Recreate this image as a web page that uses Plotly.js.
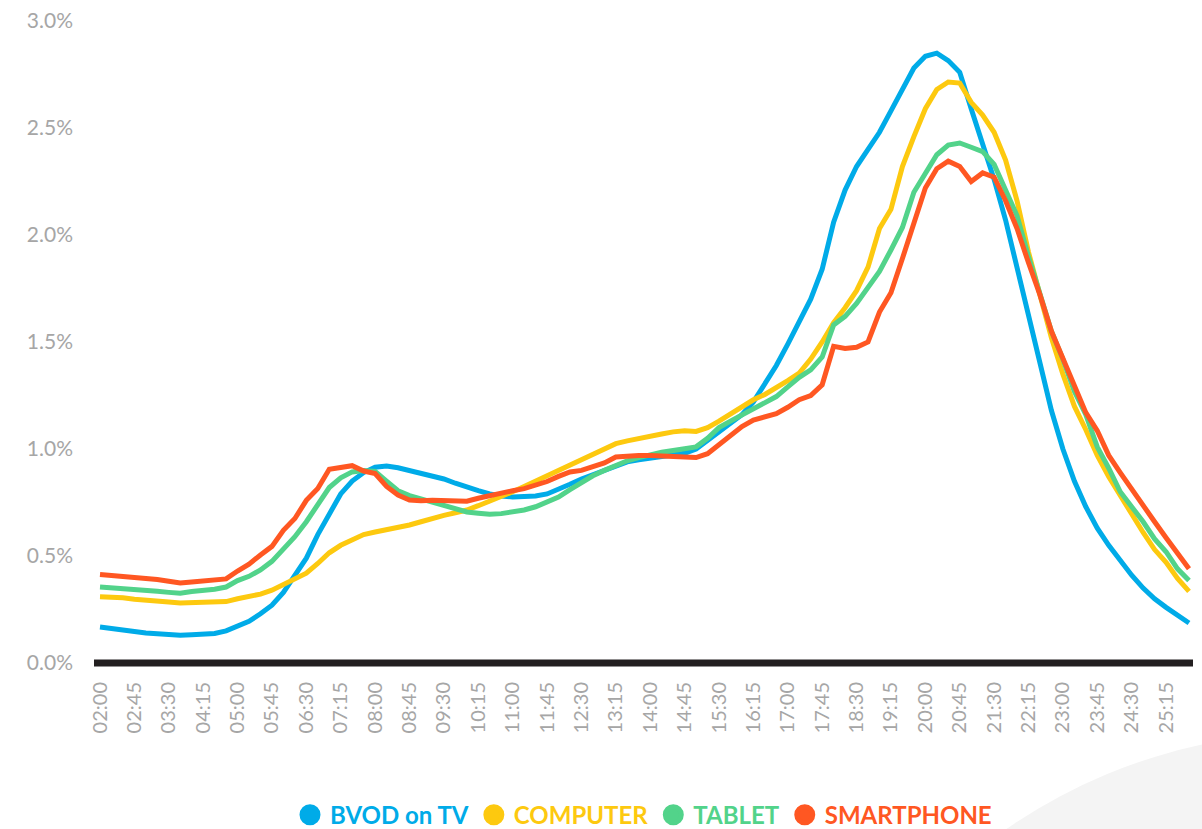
<!DOCTYPE html>
<html>
<head>
<meta charset="utf-8">
<script src="https://cdn.plot.ly/plotly-3.0.1.min.js"></script>
<style>html,body{margin:0;padding:0;background:#fff;}#chart{width:1202px;height:829px;}</style>
</head>
<body>
<div id="chart"></div>
<script>
const times = ["02:00","02:15","02:30","02:45","03:00","03:15","03:30","03:45","04:00","04:15","04:30","04:45",
"05:00","05:15","05:30","05:45","06:00","06:15","06:30","06:45","07:00","07:15","07:30","07:45",
"08:00","08:15","08:30","08:45","09:00","09:15","09:30","09:45","10:00","10:15","10:30","10:45",
"11:00","11:15","11:30","11:45","12:00","12:15","12:30","12:45","13:00","13:15","13:30","13:45",
"14:00","14:15","14:30","14:45","15:00","15:15","15:30","15:45","16:00","16:15","16:30","16:45",
"17:00","17:15","17:30","17:45","18:00","18:15","18:30","18:45","19:00","19:15","19:30","19:45",
"20:00","20:15","20:30","20:45","21:00","21:15","21:30","21:45","22:00","22:15","22:30","22:45",
"23:00","23:15","23:30","23:45","24:00","24:15","24:30","24:45","25:00","25:15","25:30","25:45"];

const tickLabels = ["02:00","02:45","03:30","04:15","05:00","05:45","06:30","07:15","08:00","08:45","09:30",
"10:15","11:00","11:45","12:30","13:15","14:00","14:45","15:30","16:15","17:00","17:45","18:30","19:15",
"20:00","20:45","21:30","22:15","23:00","23:45","24:30","25:15"];

const yTicks = [0, 0.5, 1.0, 1.5, 2.0, 2.5, 3.0];
const yTickLabels = ["0.0%","0.5%","1.0%","1.5%","2.0%","2.5%","3.0%"];

const seriesNames = ["BVOD on TV","COMPUTER","TABLET","SMARTPHONE"];
const seriesColors = ["#00abe8","#fdc90f","#52d38a","#ff5722"];

const bvodTV = [0.168,0.160,0.152,0.145,0.140,0.137,0.133,0.130,0.132,0.134,0.138,0.150,
0.170,0.195,0.230,0.270,0.330,0.410,0.490,0.600,0.700,0.790,0.850,0.890,
0.915,0.920,0.912,0.900,0.890,0.875,0.860,0.840,0.820,0.805,0.790,0.780,
0.776,0.776,0.780,0.790,0.810,0.835,0.860,0.880,0.905,0.925,0.940,0.950,
0.958,0.965,0.970,0.980,1.000,1.040,1.080,1.120,1.160,1.220,1.300,1.390,
1.490,1.590,1.700,1.840,2.060,2.210,2.320,2.400,2.480,2.580,2.680,2.780,
2.835,2.850,2.815,2.760,2.590,2.420,2.260,2.070,1.850,1.620,1.400,1.180,
1.000,0.850,0.730,0.630,0.550,0.480,0.410,0.350,0.300,0.260,0.220,0.187];

const computer = [0.310,0.308,0.305,0.298,0.295,0.290,0.285,0.280,0.282,0.283,0.284,0.287,
0.300,0.310,0.322,0.340,0.365,0.390,0.420,0.465,0.515,0.550,0.575,0.600,
0.612,0.622,0.632,0.645,0.660,0.677,0.690,0.702,0.715,0.735,0.755,0.775,
0.800,0.825,0.850,0.875,0.900,0.930,0.955,0.980,1.005,1.025,1.038,1.050,
1.058,1.070,1.080,1.085,1.082,1.100,1.130,1.165,1.200,1.230,1.255,1.285,
1.320,1.355,1.420,1.500,1.590,1.660,1.740,1.850,2.030,2.120,2.320,2.460,
2.590,2.680,2.715,2.710,2.620,2.560,2.480,2.350,2.160,1.920,1.720,1.520,
1.350,1.200,1.090,0.970,0.870,0.780,0.700,0.610,0.530,0.470,0.395,0.335];

const tablet = [0.355,0.352,0.348,0.342,0.340,0.335,0.330,0.326,0.334,0.338,0.345,0.355,
0.385,0.405,0.435,0.475,0.530,0.590,0.660,0.735,0.820,0.865,0.893,0.900,
0.895,0.850,0.805,0.782,0.768,0.753,0.738,0.720,0.706,0.700,0.695,0.698,
0.705,0.715,0.730,0.750,0.775,0.810,0.845,0.875,0.900,0.925,0.945,0.960,
0.975,0.985,0.993,1.000,1.010,1.050,1.100,1.130,1.160,1.190,1.215,1.245,
1.290,1.335,1.370,1.430,1.580,1.620,1.680,1.760,1.830,1.930,2.035,2.200,
2.290,2.375,2.420,2.430,2.410,2.390,2.330,2.210,2.090,1.900,1.730,1.550,
1.420,1.270,1.160,1.010,0.910,0.800,0.730,0.660,0.580,0.520,0.440,0.385];

const smartphone = [0.414,0.410,0.405,0.398,0.396,0.390,0.382,0.374,0.379,0.382,0.385,0.393,
0.430,0.462,0.505,0.545,0.620,0.675,0.760,0.815,0.905,0.912,0.922,0.897,
0.885,0.825,0.785,0.762,0.758,0.760,0.757,0.754,0.756,0.770,0.783,0.795,
0.805,0.815,0.830,0.848,0.872,0.893,0.900,0.918,0.935,0.963,0.968,0.970,
0.970,0.968,0.966,0.963,0.960,0.978,1.020,1.060,1.105,1.135,1.150,1.165,
1.195,1.230,1.250,1.300,1.480,1.470,1.475,1.500,1.640,1.730,1.890,2.060,
2.220,2.310,2.345,2.320,2.250,2.290,2.270,2.160,2.030,1.870,1.720,1.550,
1.420,1.300,1.170,1.085,0.970,0.890,0.810,0.740,0.660,0.585,0.510,0.440];

const seriesValues = [bvodTV, computer, tablet, smartphone];

const traces = [];
seriesValues.forEach((vals, k) => {
  traces.push({
    type: 'scatter', mode: 'lines', x: times, y: vals,
    line: {color: seriesColors[k], width: 5},
    showlegend: false, legendgroup: 'g' + k, hoverinfo: 'x+y'
  });
});
seriesNames.forEach((nm, k) => {
  traces.push({
    type: 'scatter', mode: 'markers', x: [null], y: [null],
    marker: {color: seriesColors[k], size: 16, line: {color: seriesColors[k], width: 5}},
    name: '<span style="color:' + seriesColors[k] + '"><b>' + nm + '</b></span>',
    showlegend: true, legendgroup: 'g' + k
  });
});

const layout = {
  width: 1202, height: 829,
  margin: {l: 94, r: 9, t: 21, b: 166, autoexpand: false},
  paper_bgcolor: '#ffffff', plot_bgcolor: 'rgba(0,0,0,0)',
  font: {family: 'Lato, "Open Sans", sans-serif', color: '#a6a6a6'},
  xaxis: {
    type: 'category', range: [-0.523, 95.35], automargin: false,
    tickmode: 'array', tickvals: tickLabels, ticktext: tickLabels,
    tickangle: -90, showgrid: false, zeroline: false, showline: false,
    ticks: '', ticklabelstandoff: 14,
    tickfont: {family: 'Lato, sans-serif', size: 20, color: '#a6a6a6'}
  },
  yaxis: {
    range: [0, 3.0], tickmode: 'array', tickvals: yTicks, ticktext: yTickLabels,
    showgrid: false, zeroline: false, showline: false, ticks: '', automargin: false,
    ticklabelstandoff: 20,
    tickfont: {family: 'Lato, sans-serif', size: 21, color: '#a6a6a6'}
  },
  legend: {
    orientation: 'h', x: 0.5, xanchor: 'center', y: -0.237, yanchor: 'middle',
    font: {family: 'Lato, sans-serif', size: 24, weight: 900},
    itemclick: false, itemdoubleclick: false, traceorder: 'normal'
  },
  shapes: [
    {type: 'circle', xref: 'paper', yref: 'paper', xsizemode: 'pixel', ysizemode: 'pixel',
     xanchor: 1.11, yanchor: -0.95, x0: -540, x1: 540, y0: -540, y1: 540,
     fillcolor: '#f4f4f4', line: {width: 0}, layer: 'below'},
    {type: 'line', xref: 'paper', yref: 'paper', x0: 0, x1: 1, y0: 0, y1: 0,
     line: {color: '#231f20', width: 7}, layer: 'above'}
  ]
};

Plotly.newPlot('chart', traces, layout, {displayModeBar: false, staticPlot: true});
</script>
</body>
</html>
